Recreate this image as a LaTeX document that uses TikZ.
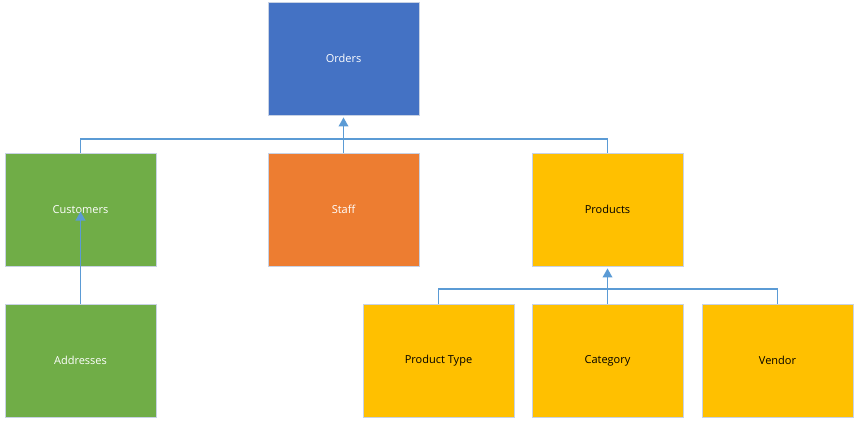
\documentclass[tikz,border=0pt]{standalone}
\usepackage{fontspec}
\setmainfont{Open Sans}
\usetikzlibrary{arrows.meta}
\definecolor{cblue}{HTML}{4472C4}
\definecolor{cgreen}{HTML}{70AD47}
\definecolor{corange}{HTML}{ED7D31}
\definecolor{cyellow}{HTML}{FFC000}
\definecolor{cline}{HTML}{5B9BD5}
\definecolor{cborder}{HTML}{C8D2E4}
\tikzset{
  box/.style={rectangle, minimum width=151pt, minimum height=113pt, inner sep=0pt, draw=cborder, line width=0.8pt, font=\fontsize{11}{13}\selectfont},
  wbox/.style={box, text=white},
  kbox/.style={box, text=black},
  conn/.style={draw=cline, line width=1.2pt},
  arr/.style={draw=cline, line width=1.8pt, -{Triangle[width=9.5pt,length=9pt]}, shorten >=2pt}
}
\begin{document}
\begin{tikzpicture}[x=1pt,y=-1pt]
\useasboundingbox (0,0) rectangle (859,425);
\node[wbox, fill=cblue] (orders) at (343.5,58.5) {Orders};
\node[wbox, fill=cgreen] (cust) at (80.5,209.5) {Customers};
\node[wbox, fill=corange] (staff) at (343.5,209.5) {Staff};
\node[kbox, fill=cyellow] (prod) at (607.5,209.5) {Products};
\node[wbox, fill=cgreen] (addr) at (80.5,360.5) {Addresses};
\node[kbox, fill=cyellow] (ptype) at (438.5,360.5) {Product Type};
\node[kbox, fill=cyellow] (cat) at (607.5,360.5) {Category};
\node[kbox, fill=cyellow] (vend) at (777.5,360.5) {Vendor};
\coordinate (b1) at (343.5,139);
\coordinate (b2) at (607.5,289);
\draw[conn] (cust.north) |- (b1);
\draw[conn] (prod.north) |- (b1);
\draw[arr] (staff.north) -- (orders.south);
\draw[arr] (addr.north) -- (cust.center);
\draw[conn] (ptype.north) |- (b2);
\draw[conn] (vend.north) |- (b2);
\draw[arr] (cat.north) -- (prod.south);
\end{tikzpicture}
\end{document}
